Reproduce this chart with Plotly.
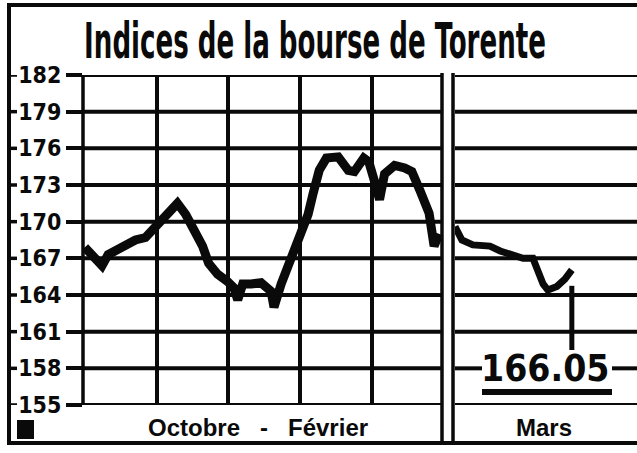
import plotly.graph_objects as go

# ---------------- data ----------------
title_text = "Indices de la bourse de Torente"
y_ticks = [155, 158, 161, 164, 167, 170, 173, 176, 179, 182]
y_ticktext = [str(v) for v in y_ticks]
left_label = "Octobre\u00a0\u00a0\u00a0-\u00a0\u00a0\u00a0Février"
right_label = "Mars"
last_value_text = "166.05"

# Octobre - Février (index of trading days, 0..99)
oct_feb_x = [0, 2.3, 4.8, 6.5, 9.0, 11.8, 14.1, 16.9, 18.8, 21.1, 23.3, 25.8,
             28.1, 30.9, 32.8, 34.5, 37.0, 39.8, 41.5, 42.6, 44.0, 46.3, 49.1,
             51.9, 52.7, 54.7, 56.6, 58.3, 60.8, 62.2, 63.6, 65.3, 67.3, 70.6,
             73.4, 75.1, 77.7, 79.1, 80.7, 82.1, 83.5, 86.3, 89.1, 91.1, 93.3,
             95.9, 97.3, 98.7]
oct_feb_y = [167.9, 167.2, 166.4, 167.3, 167.7, 168.1, 168.5, 168.7, 169.3,
             170.0, 170.9, 171.5, 170.6, 169.1, 168.0, 166.6, 165.7, 165.1,
             164.6, 163.6, 164.9, 164.9, 165.0, 164.3, 163.0, 164.9, 166.3,
             167.7, 169.1, 170.6, 172.3, 174.2, 175.2, 175.3, 174.2, 174.1,
             175.2, 174.9, 173.3, 171.8, 173.9, 174.6, 174.4, 174.1, 172.6,
             170.7, 168.0, 169.0]

# Mars
mars_x = [0, 1.9, 4.9, 9.6, 12.4, 15.1, 18.7, 21.4, 22.8, 24.2, 25.5, 28.0,
          30.2, 32.1]
mars_y = [169.6, 168.5, 168.1, 168.0, 167.6, 167.4, 167.0, 167.0, 166.0,
          164.9, 164.4, 164.7, 165.3, 166.05]

# ---------------- layout helpers ----------------
W, H = 637, 453


def px(x):
    return x / W


def py(y):
    return 1 - y / H


COND = "DejaVu Sans Condensed, DejaVu Sans, sans-serif"
BOLD = "Liberation Sans, Arial, DejaVu Sans, sans-serif"
INK = "#0a0a0a"

fig = go.Figure()
fig.add_trace(go.Scatter(x=oct_feb_x, y=oct_feb_y, mode="lines",
                         line=dict(color=INK, width=9), xaxis="x", yaxis="y",
                         hoverinfo="skip", showlegend=False))
fig.add_trace(go.Scatter(x=mars_x, y=mars_y, mode="lines",
                         line=dict(color=INK, width=7), xaxis="x2", yaxis="y",
                         hoverinfo="skip", showlegend=False))

shapes = []
for v in y_ticks:
    shapes.append(dict(type="line", xref="paper", yref="y", x0=px(83), x1=px(442),
                       y0=v, y1=v, line=dict(color=INK, width=4), layer="below"))
    segs = [(455, 482), (612, 640)] if v == 158 else [(455, 640)]
    for a, b in segs:
        shapes.append(dict(type="line", xref="paper", yref="y", x0=px(a), x1=px(b),
                           y0=v, y1=v, line=dict(color=INK, width=4), layer="below"))
    shapes.append(dict(type="line", xref="paper", yref="y", x0=px(9), x1=px(17),
                       y0=v, y1=v, line=dict(color=INK, width=3.5), layer="below"))

shapes.append(dict(type="line", xref="paper", yref="paper", x0=px(83), x1=px(83),
                   y0=py(405), y1=py(75), line=dict(color=INK, width=3.5), layer="below"))
for xv in (442, 453):
    shapes.append(dict(type="line", xref="paper", yref="paper", x0=px(xv), x1=px(xv),
                       y0=py(443), y1=py(73), line=dict(color=INK, width=3.5), layer="below"))
shapes.append(dict(type="rect", xref="paper", yref="paper", x0=px(9), x1=px(660),
                   y0=py(443), y1=py(5), line=dict(color=INK, width=4), layer="below"))
shapes.append(dict(type="rect", xref="paper", yref="paper", x0=px(17), x1=px(34),
                   y0=py(439), y1=py(420), line=dict(width=0), fillcolor=INK, layer="below"))
shapes.append(dict(type="line", xref="x2", yref="y", x0=mars_x[-1], x1=mars_x[-1],
                   y0=mars_y[-1] - 1.3, y1=159.5, line=dict(color=INK, width=5)))
shapes.append(dict(type="line", xref="paper", yref="paper", x0=px(482), x1=px(612),
                   y0=py(392), y1=py(392), line=dict(color=INK, width=6)))

annotations = [
    dict(xref="x2", yref="y", x=24.7, y=158, text=last_value_text, showarrow=False,
         font=dict(family=COND, size=37, color=INK, weight=700),
         xanchor="center", yanchor="middle"),
    dict(xref="paper", yref="paper", x=px(258), y=py(427), text=left_label,
         showarrow=False, font=dict(family=BOLD, size=24, color=INK, weight=700),
         xanchor="center", yanchor="middle"),
    dict(xref="paper", yref="paper", x=px(544), y=py(427), text=right_label,
         showarrow=False, font=dict(family=BOLD, size=24, color=INK, weight=700),
         xanchor="center", yanchor="middle"),
]

fig.update_layout(
    width=W, height=H,
    margin=dict(l=0, r=0, t=0, b=0, pad=0, autoexpand=False),
    paper_bgcolor="white",
    plot_bgcolor="rgba(0,0,0,0)",
    title=dict(text=title_text, x=px(315), y=py(41), xref="paper", yref="paper",
               xanchor="center", yanchor="middle", automargin=False,
               font=dict(family=COND, size=50, color=INK, weight=700)),
    xaxis=dict(domain=[px(83), px(442)], range=[-0.5, 99.5], tickvals=[20, 40, 60, 80],
               showgrid=True, gridcolor=INK, gridwidth=3.5, showticklabels=False,
               zeroline=False, showline=False, ticks="", anchor="y", fixedrange=True,
               automargin=False),
    xaxis2=dict(domain=[px(455), 1.0], range=[0, 50], showgrid=False, showticklabels=False,
                zeroline=False, showline=False, ticks="", anchor="y", fixedrange=True,
                automargin=False),
    yaxis=dict(domain=[py(405), py(75)], range=[155, 182], tickvals=y_ticks,
               ticktext=y_ticktext, ticks="outside", ticklen=16, tickwidth=4,
               tickcolor=INK, showgrid=False, zeroline=False, showline=False,
               tickfont=dict(family=COND, size=23, color=INK, weight=700),
               anchor="x", fixedrange=True, automargin=False),
    shapes=shapes,
    annotations=annotations,
    showlegend=False,
)

post = """
document.body.style.margin = '0';
document.body.style.overflow = 'hidden';
var gd = document.getElementById('{plot_id}');
function squeezeTitle() {
  var t = gd.querySelector('text.gtitle');
  if (!t || t.getAttribute('data-squeezed')) { return; }
  var w = t.getComputedTextLength();
  if (!w) { return; }
  var s = 462 / w;
  var cx = parseFloat(t.getAttribute('x')) || 0;
  t.setAttribute('transform', 'translate(' + cx + ',0) scale(' + s + ',1) translate(' + (-cx) + ',0)');
  t.setAttribute('data-squeezed', '1');
}
squeezeTitle();
if (gd.on) { gd.on('plotly_afterplot', function () {
  var t = gd.querySelector('text.gtitle');
  if (t) { t.removeAttribute('data-squeezed'); }
  squeezeTitle();
}); }
"""

fig.write_html("out.html", post_script=post, config={"displayModeBar": False})
